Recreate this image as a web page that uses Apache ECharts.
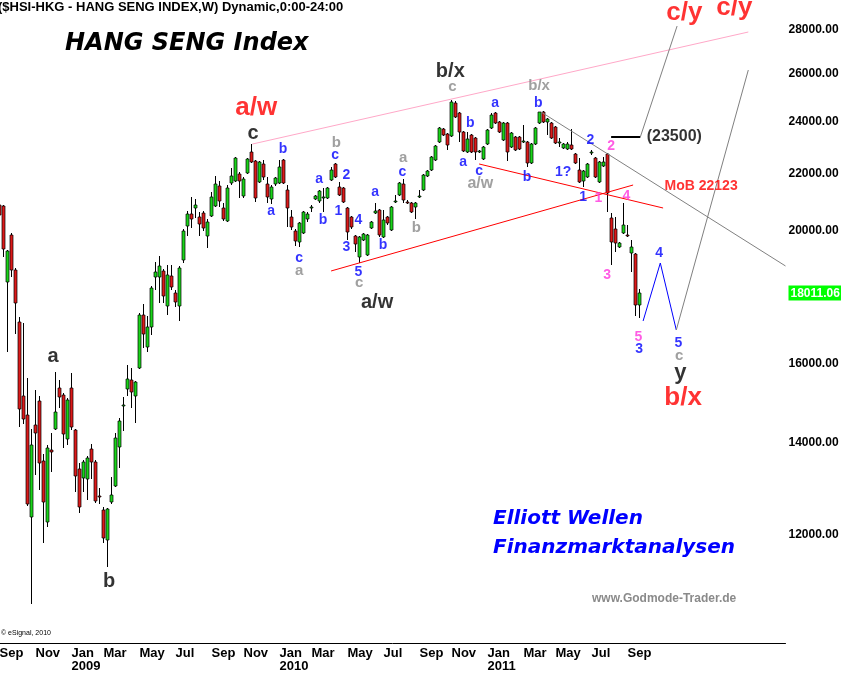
<!DOCTYPE html>
<html><head><meta charset="utf-8">
<script src="https://cdn.jsdelivr.net/npm/echarts@6/dist/echarts.min.js"></script>
<style>html,body{margin:0;padding:0;background:#fff}#c{width:841px;height:675px}</style>
</head><body><div id="c"></div>
<script>
// ---- DATA ----
const firstWeek = '2008-09-01';   // weekly bars, Monday dates
const weekSlots = 197;            // axis slots (data + projection space)
const openP = [20880,20840,18350,19850,18720,17160,15150,14680,12370,14430,
15030,13590,12270,13840,14340,15360,15180,14100,15360,14310,
13400,13200,13180,13860,13560,12810,12510,11900,12680,13030,
13910,14900,15330,15560,15150,15880,17360,16450,17010,18500,
18500,18690,17620,18530,18010,17620,19040,20150,20560,20770,
20460,20600,19820,20490,20840,21550,20770,20320,21660,21730,
21990,21190,22030,22820,22480,21700,22360,21620,21090,21620,
21660,22510,21410,20460,19990,19620,19920,20390,20770,21090,
21020,21130,21120,21770,22360,21520,21480,20770,20460,19820,
19130,19690,19200,20090,20600,20700,19790,20460,20020,21010,
21230,21620,20980,20950,20810,21170,21410,21920,22140,22510,
23200,23710,23520,23440,24770,24360,23600,22820,23480,23360,
22830,22550,23120,23750,24360,24000,23280,23960,23010,23400,
23400,23230,23200,22400,23120,23960,24400,24000,23960,23790,
23190,22970,22930,23080,22740,22140,21730,21880,22780,22590,
21700,22290,22740,20430,20050,19460,19920,19860,19260,19230,
17650];
const closeP = [20530,19390,19330,18720,17710,14830,14580,12640,13960,14240,
13540,12680,13890,13790,14750,15130,14220,15050,14380,13250,
12580,13560,13660,13560,12710,12790,11940,12540,12830,14120,
14530,14930,15590,15250,15510,17360,16810,17010,18160,18660,
18850,17920,18560,18190,17740,18780,19990,20560,20390,20880,
20220,20090,20290,21160,21620,21020,20390,21480,21920,22590,
21730,21810,22550,22440,21120,22440,21880,21160,21520,21840,
22250,21660,20770,20120,19650,20260,20630,20560,20810,21190,
21370,21160,21480,22140,21880,21230,20980,19950,20120,19550,
19790,19890,19850,20290,20670,19850,20360,20260,20810,21030,
21660,21050,20970,20630,20950,21200,21950,22100,22630,23050,
23750,23480,23080,24810,24200,23600,22860,23320,22820,22820,
22850,23010,23680,24280,23960,23600,23960,22820,23560,22890,
22930,23250,22400,23120,23750,24400,24000,24120,23360,23160,
23200,23120,23120,22930,22400,21700,22100,22360,22800,21880,
22440,22440,21300,19620,19590,19590,20190,19840,19460,17650,
18011.06];
const lowP = [19920,19130,16310,18500,16810,14380,14450,12600,10690,13270,
12940,11840,12160,13340,14300,14850,13890,13960,14310,12900,
12450,12900,12730,13180,12660,12640,11840,11370,12640,13010,
13430,14290,15150,14850,14480,15850,16420,16310,16790,18100,
17710,17710,17360,18100,17600,17180,18940,19820,20100,20430,
19820,20000,19420,20460,20800,20810,20320,20290,21600,21700,
21120,21120,21990,22400,20980,21650,21770,20950,20910,21550,
21630,21620,20120,20030,19490,19460,19880,20300,20630,21050,
20950,20630,21090,21730,21850,21190,20950,19690,20050,19290,
18940,19650,19150,20050,20560,19800,19750,20200,19980,20950,
21190,20950,20900,20600,20390,21120,21380,21880,22100,22480,
23170,23440,22890,23400,24150,23200,22800,22780,22780,22510,
22780,22510,23090,23720,23920,23560,23240,22480,22970,22850,
22890,23180,22250,22360,23090,23920,23960,23480,23320,23120,
23010,22930,22890,22890,22360,21650,21520,21840,22700,21840,
21660,22250,20630,18880,19290,19420,19880,19780,18660,17330,
17270];
const highP = [20980,20880,19360,19920,18780,17300,17130,15620,14340,15310,
15150,13750,13960,14240,15770,15560,15230,15100,15750,14340,
13540,13600,13700,13980,13600,12990,12580,12560,13230,14240,
14600,15130,15960,15880,15550,17420,17680,17330,18220,18970,
19160,18750,18880,18880,18100,18850,20050,20670,21160,21090,
20630,20650,20390,21340,21920,21730,20950,21590,22210,22620,
22050,21880,22590,23120,22520,22470,22510,21880,21590,21880,
22510,22550,21590,20700,20050,20300,20670,20630,20880,21230,
21410,21480,21520,22250,22390,21700,21520,20800,20500,19850,
19820,19920,19900,20330,20950,20750,20700,20500,20850,21230,
21700,21810,21050,20980,20980,21410,21990,22140,22670,23080,
23790,23760,23550,24900,24860,24400,23650,23600,23520,23400,
22900,23050,23710,24360,24400,24040,24000,24000,23600,23440,
23440,23870,23240,23160,23790,24420,24440,24160,24000,23830,
23360,23160,23200,23710,22780,22590,22140,22400,22900,22630,
22480,22630,22780,20600,20460,19620,20950,20190,19690,19260,
18130];
const lastPrice = 18011.06;
const yTicks = [12000,14000,16000,20000,22000,24000,26000,28000];
const monthTicks = [['2008-09-01','Sep'],['2008-11-03','Nov'],['2009-01-05','Jan\n2009'],['2009-03-02','Mar'],
 ['2009-05-04','May'],['2009-07-06','Jul'],['2009-09-07','Sep'],['2009-11-02','Nov'],['2010-01-04','Jan\n2010'],
 ['2010-03-01','Mar'],['2010-05-03','May'],['2010-07-05','Jul'],['2010-09-06','Sep'],['2010-11-01','Nov'],
 ['2011-01-03','Jan\n2011'],['2011-03-07','Mar'],['2011-05-02','May'],['2011-07-04','Jul'],['2011-09-05','Sep']];
// wave labels: [text, week slot, price, style]
const waveLabels = [
 ['a/w',64.2,24565,'redBig'],['c',63.4,23556,'black'],['b',70.9,22932,'blue'],['a',67.9,20667,'blue'],
 ['c',74.9,19100,'blue'],['a',74.9,18688,'grey'],['b',84.2,23162,'grey'],['c',83.9,22703,'blue'],
 ['2',86.7,21953,'blue'],['a',79.9,21807,'blue'],['b',80.9,20357,'blue'],['1',84.7,20667,'blue'],
 ['3',86.7,19455,'blue'],['4',89.7,20357,'blue'],['5',89.7,18656,'blue'],['c',89.9,18316,'grey'],
 ['a/w',94.4,17740,'black'],['a',93.9,21336,'blue'],['b',95.9,19521,'blue'],['a',100.9,22589,'grey'],
 ['c',100.7,22064,'blue'],['b',104.2,20085,'grey'],['b/x',112.7,26138,'black'],['c',113.2,25445,'grey'],
 ['b',117.7,23956,'blue'],['a',115.9,22438,'blue'],['c',119.9,22101,'blue'],['a/w',120.2,21624,'greyMid'],
 ['a',123.9,24772,'blue'],['b',131.9,21880,'blue'],['b/x',134.9,25488,'grey'],['b',134.7,24772,'blue'],
 ['1?',140.9,22064,'blue'],['2',147.7,23281,'blue'],['1',145.9,21158,'blue'],['1',149.7,21123,'mag'],
 ['2',152.9,23046,'mag'],['4',156.7,21193,'mag'],['3',151.9,18562,'mag'],['5',159.7,16729,'mag'],
 ['3',159.9,16396,'blue'],['4',164.9,19261,'blue'],['5',169.7,16561,'blue'],['c',169.9,16203,'grey'],
 ['y',170.2,15748,'blackY'],['b/x',170.9,15101,'redBig'],['c/y',171.2,28809,'redBig'],['c/y',183.7,29052,'redBig'],
 ['(23500)',168.7,23398,'blackMid'],['MoB 22123',175.4,21552,'redMid'],['a',13.4,16203,'black'],['b',27.4,11108,'black']
];
// trend / projection lines: [style, [[slot, price], ...]]
const trendLines = [
 ['pink',[[63.2,23123],[187.2,27906]]],
 ['red',[[82.9,18688],[158.4,21588]]],
 ['red',[[119.9,22363],[165.9,20771]]],
 ['grey',[[135.4,24401],[196.5,18845]]],
 ['blackThick',[[152.9,23398],[160.2,23398]]],
 ['grey',[[160.2,23398],[169.4,28188]]],
 ['blue',[[160.9,17184],[165.2,18940],[169.2,16926]]],
 ['grey',[[169.2,16926],[187.2,26182]]]
];

// ---- STYLES ----
const FONT = '"Liberation Sans", Arial, sans-serif';
const UP = '#19d419', DOWN = '#dc1a1a';
const labelStyles = {
 redBig:{color:'#ff0000',fontSize:26}, black:{color:'#000',fontSize:20}, blackY:{color:'#000',fontSize:22},
 blue:{color:'#0000ff',fontSize:14}, grey:{color:'#888888',fontSize:15}, greyMid:{color:'#888888',fontSize:16},
 mag:{color:'#ff33dd',fontSize:14}, blackMid:{color:'#000',fontSize:16}, redMid:{color:'#ff0000',fontSize:14}
};
const lineStyles = {
 pink:{color:'#ffa8c8',width:1}, red:{color:'#ff0000',width:1}, grey:{color:'#808080',width:1},
 blackThick:{color:'#000',width:2}, blue:{color:'#0000ff',width:1}
};

// ---- BUILD ----
const cats = [];
const d0 = Date.parse(firstWeek + 'T00:00:00Z');
for (let i = 0; i < weekSlots; i++) cats.push(new Date(d0 + i * 7 * 864e5).toISOString().slice(0, 10));
const tickMap = new Map(monthTicks);
const ohlc = openP.map((o, i) => [i, o, closeP[i], lowP[i], highP[i]]);

function renderCandle(params, api) {
  const i = api.value(0), o = api.value(1), c = api.value(2), l = api.value(3), h = api.value(4);
  const pO = api.coord([i, o]), pC = api.coord([i, c]), pL = api.coord([i, l]), pH = api.coord([i, h]);
  const col = Math.floor(pO[0]);
  const cx = col + 0.5;
  let top = Math.round(Math.min(pO[1], pC[1])), bot = Math.round(Math.max(pO[1], pC[1]));
  if (bot - top < 1) bot = top + 1;
  const fill = c >= o ? UP : DOWN;
  return {type:'group', children:[
    {type:'line', shape:{x1:cx, y1:Math.round(pH[1]), x2:cx, y2:top}, style:{stroke:'#000', lineWidth:1}},
    {type:'line', shape:{x1:cx, y1:bot, x2:cx, y2:Math.round(pL[1])}, style:{stroke:'#000', lineWidth:1}},
    {type:'rect', shape:{x:col - 1, y:top, width:3, height:bot - top}, style:{fill:fill, stroke:'#000', lineWidth:0.7}}
  ]};
}

const series = [{
  type:'custom', xAxisIndex:0, yAxisIndex:0, data:ohlc, renderItem:renderCandle, silent:true,
  encode:{x:0, y:[1,2,3,4]}
}];
trendLines.forEach(([st, pts]) => series.push({
  type:'line', xAxisIndex:1, yAxisIndex:0, data:pts, symbol:'none', silent:true, z:3,
  lineStyle:{color:lineStyles[st].color, width:lineStyles[st].width}
}));
series.push({
  type:'scatter', xAxisIndex:1, yAxisIndex:0, symbolSize:1, silent:true, z:5,
  itemStyle:{color:'rgba(0,0,0,0)'},
  data: waveLabels.map(([t, x, p, st]) => ({
    value:[x, p],
    label:{show:true, position:'inside', formatter:t, color:labelStyles[st].color,
      fontSize:labelStyles[st].fontSize, fontWeight:'bold', fontFamily:FONT}
  }))
});

const chart = echarts.init(document.getElementById('c'), null, {renderer:'canvas'});
chart.setOption({
  animation:false,
  backgroundColor:'#fff',
  grid:{left:-2.5, top:0, width:788, height:643, containLabel:false, outerBoundsMode:'none'},
  xAxis:[{
    type:'category', data:cats, boundaryGap:true,
    axisLine:{show:true, lineStyle:{color:'#000', width:1}}, axisTick:{show:false}, splitLine:{show:false},
    axisLabel:{interval:(i, v) => tickMap.has(v), formatter:v => tickMap.get(v) || '', align:'left',
      margin:4, color:'#000', fontSize:13, lineHeight:13, fontWeight:'bold', fontFamily:FONT}
  },{
    type:'value', min:-0.5, max:weekSlots - 0.5, show:false
  }],
  yAxis:{
    type:'log', logBase:10, min:10011, max:29446, position:'right',
    axisLine:{show:true, lineStyle:{color:'#000', width:1}}, axisTick:{show:false}, splitLine:{show:false},
    minorTick:{show:false}, minorSplitLine:{show:false},
    axisLabel:{customValues:yTicks.concat([lastPrice]), margin:3, color:'#000', fontSize:12, fontWeight:'bold', fontFamily:FONT,
      formatter:v => Math.abs(v - lastPrice) < 0.01 ? '{last|' + lastPrice.toFixed(2) + '}' : Number(v).toFixed(2),
      rich:{last:{backgroundColor:'#00ff00', color:'#fff', fontSize:12, fontWeight:'bold', fontFamily:FONT, padding:[2,2,1,2]}}}
  },
  graphic:[
    {type:'text', left:-2, top:1, style:{text:'($HSI-HKG - HANG SENG INDEX,W) Dynamic,0:00-24:00', font:'bold 13px ' + FONT, fill:'#000'}},
    {type:'text', left:65, top:32, style:{text:'HANG SENG Index', font:'italic bold 24px "DejaVu Sans"', fill:'#000'}},
    {type:'text', left:493, top:509, style:{text:'Elliott Wellen', font:'italic bold 20px "DejaVu Sans"', fill:'#0000ff'}},
    {type:'text', left:493, top:538, style:{text:'Finanzmarktanalysen', font:'italic bold 20px "DejaVu Sans"', fill:'#0000ff'}},
    {type:'text', left:592, top:593, style:{text:'www.Godmode-Trader.de', font:'bold 12px ' + FONT, fill:'#8a8a8a'}},
    {type:'text', left:1, top:630, style:{text:'\u00a9 eSignal, 2010', font:'7px ' + FONT, fill:'#000'}}
  ],
  series
});
</script></body></html>
